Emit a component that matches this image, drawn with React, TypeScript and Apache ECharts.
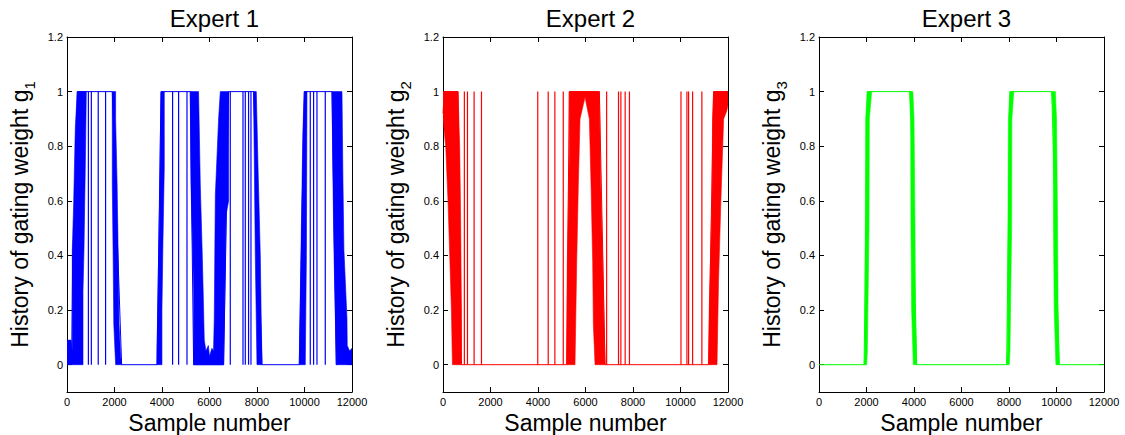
import React, { useEffect, useRef } from 'react';
import * as echarts from 'echarts';

const FONT = '"Liberation Sans", Arial, Helvetica, sans-serif';

const titles = ['Expert 1', 'Expert 2', 'Expert 3'];
const subscripts = ['1', '2', '3'];
const colors = ['#0000ff', '#ff0000', '#00ff00'];
const xTicks = [0, 2000, 4000, 6000, 8000, 10000, 12000];
const yTicks = [0, 0.2, 0.4, 0.6, 0.8, 1, 1.2];

// Expert 1 (blue)
const blueTrace = [[0, 0.04], [200, 0.04], [240, 0.4], [350, 0.6], [434, 1], [1907, 1], [2300, 0], [3790, 0], [3960, 1], [5191, 1], [5331, 0], [6594, 0], [6805, 1], [7860, 1], [8210, 0], [9780, 0], [9991, 1], [11157, 1], [11338, 0], [12000, 0.03]];
const blueDrops = [900, 1025, 1315, 1625, 4446, 4699, 5052, 6875, 7410, 7507, 7645, 7746, 10243, 10383, 10525, 10875];
const blueBands = [
  [[0, 0], [0, 0.09], [170, 0.09], [223, 0.05], [223, 0.42], [280, 0.59], [350, 0.87], [434, 1], [813, 1], [780, 0.78], [715, 0.42], [674, 0.27], [674, 0]],
  [[1907, 1], [2047, 1], [2047, 0.9], [2110, 0.66], [2150, 0.42], [2190, 0.15], [2260, 0.03], [2300, 0], [2047, 0], [1970, 0.15], [1940, 0.42], [1907, 0.66]],
  [[3788, 0], [3790, 0.05], [3900, 0.6], [3957, 1], [4096, 1], [4096, 0.72], [4040, 0.45], [3998, 0.2], [3998, 0]],
  [[5191, 1], [5540, 1], [5612, 0.66], [5690, 0.42], [5733, 0.27], [5780, 0.09], [5850, 0.05], [5950, 0.07], [6000, 0.03], [6100, 0.06], [6170, 0.05], [6200, 0.17], [6245, 0.62], [6383, 0.9], [6454, 1], [6805, 1], [6805, 0.6], [6700, 0.55], [6594, 0], [5331, 0], [5331, 0.27], [5290, 0.42], [5220, 0.66]],
  [[7850, 1], [7970, 1], [8050, 0.7], [8139, 0.4], [8180, 0.15], [8210, 0], [7999, 0], [7928, 0.4], [7880, 0.8]],
  [[9780, 0], [9840, 0.34], [9930, 0.85], [9991, 1], [10104, 1], [10080, 0.4], [10033, 0]],
  [[11157, 1], [11578, 1], [11620, 0.67], [11660, 0.42], [11788, 0.17], [11800, 0.07], [11900, 0.05], [12000, 0.06], [12000, 0], [11338, 0], [11300, 0.17], [11240, 0.42], [11200, 0.67]],
];

// Expert 2 (red)
const redTrace = [[0, 0.92], [60, 1], [633, 1], [776, 0], [5207, 0], [5319, 1], [6583, 1], [6824, 0], [11183, 0], [11394, 1], [12000, 1]];
const redDrops = [900, 1030, 1310, 1620, 3990, 4430, 4710, 5064, 6890, 7390, 7490, 7670, 7850, 10020, 10270, 10340, 10510, 10900];
const redBands = [
  [[0, 1], [633, 1], [700, 0.8], [734, 0.6], [776, 0.2], [776, 0], [397, 0], [354, 0.2], [283, 0.4], [211, 0.6], [114, 0.8], [0, 0.9]],
  [[5207, 0], [5234, 0.37], [5319, 0.78], [5319, 1], [6583, 1], [6642, 0.66], [6726, 0.37], [6780, 0.15], [6824, 0], [6402, 0], [6330, 0.15], [6304, 0.37], [6233, 0.66], [6163, 0.9], [5980, 0.98], [5769, 0.9], [5698, 0.66], [5628, 0.37], [5558, 0]],
  [[11183, 0], [11210, 0.2], [11326, 0.6], [11350, 0.9], [11394, 1], [12000, 1], [12000, 0.95], [11950, 0.93], [11816, 0.9], [11700, 0.6], [11600, 0.3], [11537, 0]],
];

// Expert 3 (green)
const greenTrace = [[0, 0], [1900, 0], [2035, 1], [3850, 1], [4110, 0], [7900, 0], [8040, 1], [9800, 1], [10115, 0], [12000, 0]];
const greenDrops: number[] = [];
const greenBands = [
  [[1895, 0], [1930, 0.05], [1951, 0.5], [1965, 0.9], [2035, 1], [2217, 1], [2119, 0.9], [2105, 0.5], [2035, 0.05], [2007, 0]],
  [[3802, 1], [3950, 1], [4000, 0.9], [4042, 0.5], [4060, 0.2], [4112, 0], [3971, 0], [3901, 0.2], [3873, 0.5], [3859, 0.9]],
  [[7900, 0], [7930, 0.05], [7960, 0.5], [7975, 0.9], [8040, 1], [8200, 1], [8120, 0.9], [8110, 0.5], [8040, 0.05], [8010, 0]],
  [[9800, 1], [9950, 1], [10000, 0.9], [10045, 0.5], [10065, 0.2], [10115, 0], [9975, 0], [9905, 0.2], [9875, 0.5], [9860, 0.9]],
];

const panels = [
  { trace: blueTrace, drops: blueDrops, bands: blueBands },
  { trace: redTrace, drops: redDrops, bands: redBands },
  { trace: greenTrace, drops: greenDrops, bands: greenBands },
];

const gridLefts = [67, 443, 819];
const GRID_TOP = 37;
const GRID_W = 285;
const GRID_H = 355;

function buildOption() {
  const axisLine = { show: true, onZero: false, lineStyle: { color: '#000', width: 1 } };
  const tick = { show: true, inside: true, length: 5, lineStyle: { color: '#000', width: 1 } };
  const labelStyle = { fontSize: 11, fontFamily: FONT, color: '#000' };

  const grid: any[] = [];
  const xAxis: any[] = [];
  const yAxis: any[] = [];
  const series: any[] = [];
  const title: any[] = [];

  panels.forEach((p, i) => {
    const color = colors[i];
    grid.push({ left: gridLefts[i], top: GRID_TOP, width: GRID_W, height: GRID_H, show: false, containLabel: false, outerBoundsMode: 'none' });
    title.push({
      text: titles[i],
      left: gridLefts[i] + GRID_W / 2,
      top: 1,
      textAlign: 'center',
      textStyle: { fontSize: 24, fontWeight: 'normal', fontFamily: FONT, color: '#000' },
    });
    xAxis.push({
      type: 'value', gridIndex: i, position: 'bottom', min: 0, max: 12000, interval: 2000,
      axisLine, axisTick: tick, splitLine: { show: false },
      axisLabel: { ...labelStyle, margin: 4, formatter: (v: number) => String(v) },
      name: 'Sample number', nameLocation: 'middle', nameGap: 15,
      nameTextStyle: { fontSize: 23, fontFamily: FONT, color: '#000' },
    });
    xAxis.push({
      type: 'value', gridIndex: i, position: 'top', min: 0, max: 12000, interval: 2000,
      axisLine, axisTick: tick, splitLine: { show: false }, axisLabel: { show: false },
    });
    yAxis.push({
      type: 'value', gridIndex: i, position: 'left', min: -0.1, max: 1.2,
      axisLine, axisTick: { ...tick, customValues: yTicks }, splitLine: { show: false },
      axisLabel: { ...labelStyle, margin: 4, customValues: yTicks, formatter: (v: number) => String(v) },
      name: `{m|History of gating weight g}{s|${subscripts[i]}}`,
      nameLocation: 'middle', nameRotate: 90, nameGap: 30,
      nameTextStyle: {
        fontSize: 23, fontFamily: FONT, color: '#000',
        rich: {
          m: { fontSize: 23, fontFamily: FONT, color: '#000', lineHeight: 34 },
          s: { fontSize: 15, fontFamily: FONT, color: '#000', lineHeight: 15, verticalAlign: 'bottom' },
        },
      },
    });
    yAxis.push({
      type: 'value', gridIndex: i, position: 'right', min: -0.1, max: 1.2,
      axisLine, axisTick: { ...tick, customValues: yTicks }, splitLine: { show: false },
      axisLabel: { show: false, customValues: yTicks },
    });

    const bands = p.bands;
    series.push({
      type: 'custom', coordinateSystem: 'cartesian2d', xAxisIndex: 2 * i, yAxisIndex: 2 * i,
      silent: true, clip: true,
      data: bands.map((b, k) => [b[0][0], b[0][1], k]),
      encode: { x: 0, y: 1 },
      renderItem: (params: any, api: any) => ({
        type: 'polygon',
        shape: { points: bands[params.dataIndex].map((pt) => api.coord(pt)) },
        style: { fill: color, stroke: color, lineWidth: 0.6 },
      }),
    });
    const drops = p.drops;
    series.push({
      type: 'custom', coordinateSystem: 'cartesian2d', xAxisIndex: 2 * i, yAxisIndex: 2 * i,
      silent: true, clip: true,
      data: drops.map((x) => [x, 0]),
      encode: { x: 0, y: 1 },
      renderItem: (params: any, api: any) => {
        const x = drops[params.dataIndex];
        const a = api.coord([x, 0]);
        const b = api.coord([x, 1]);
        return { type: 'line', shape: { x1: a[0], y1: a[1], x2: b[0], y2: b[1] }, style: { stroke: color, lineWidth: 1.2 } };
      },
    });
    series.push({
      type: 'line', xAxisIndex: 2 * i, yAxisIndex: 2 * i, data: p.trace,
      showSymbol: false, silent: true, lineStyle: { color, width: 1 }, itemStyle: { color },
    });
  });

  return { animation: false, backgroundColor: '#fff', title, grid, xAxis, yAxis, series };
}

export default function App() {
  const ref = useRef<HTMLDivElement>(null);
  useEffect(() => {
    const chart = echarts.init(ref.current!, null, { renderer: 'svg' });
    chart.setOption(buildOption() as any);
    return () => chart.dispose();
  }, []);
  return (
    <div
      ref={ref}
      style={{ position: 'fixed', left: 0, top: 0, width: 1125, height: 435, background: '#fff' }}
    />
  );
}
